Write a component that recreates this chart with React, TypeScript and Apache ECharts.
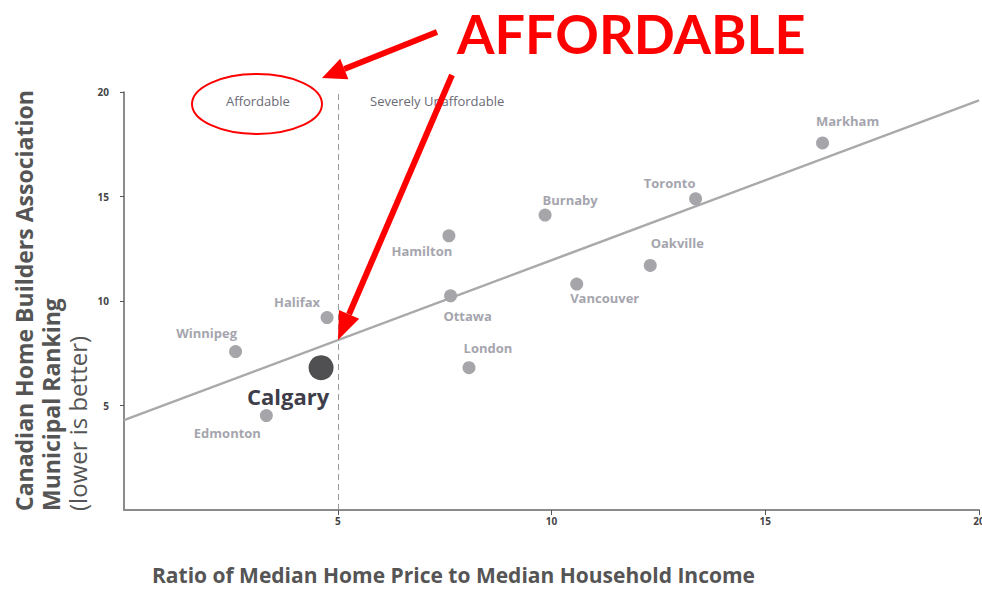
import React, { useEffect, useRef } from "react";
import * as echarts from "echarts";

const cities = ["Markham", "Toronto", "Burnaby", "Hamilton", "Oakville", "Vancouver", "Ottawa", "Halifax", "Winnipeg", "London", "Calgary", "Edmonton"];
const priceRatio = [16.34, 13.37, 9.85, 7.6, 12.31, 10.59, 7.64, 4.75, 2.61, 8.07, 4.61, 3.33];
const ranking = [17.56, 14.89, 14.11, 13.12, 11.7, 10.81, 10.25, 9.21, 7.58, 6.81, 6.81, 4.52];
const trendX = [0, 20];
const trendY = [4.3, 19.6];
const threshold = 5;
const highlightCity = "Calgary";

// label placement (pixels, relative to each point)
const labelOffsets: Record<string, [number, number]> = {
  Markham: [25, -22],
  Toronto: [-26, -16],
  Burnaby: [25, -15],
  Hamilton: [-27, 15],
  Oakville: [27, -22],
  Vancouver: [28, 14],
  Ottawa: [17, 20],
  Halifax: [-30, -16],
  Winnipeg: [-29, -19],
  London: [19, -20],
  Calgary: [-33, 28],
  Edmonton: [-39, 17],
};

const RED = "#ff0000";

function arrow(x1: number, y1: number, x2: number, y2: number, headLen: number, headHalf: number, width: number) {
  const dx = x2 - x1;
  const dy = y2 - y1;
  const len = Math.sqrt(dx * dx + dy * dy);
  const ux = dx / len;
  const uy = dy / len;
  const bx = x2 - headLen * ux;
  const by = y2 - headLen * uy;
  const nx = -uy;
  const ny = ux;
  return [
    {
      type: "line",
      shape: { x1, y1, x2: bx, y2: by },
      style: { stroke: RED, lineWidth: width },
      z: 100,
    },
    {
      type: "polygon",
      shape: {
        points: [
          [x2, y2],
          [bx + headHalf * nx, by + headHalf * ny],
          [bx - headHalf * nx, by - headHalf * ny],
        ],
      },
      style: { fill: RED },
      z: 100,
    },
  ];
}

export default function App() {
  const ref = useRef<HTMLDivElement>(null);
  useEffect(() => {
    if (!ref.current) return;
    const chart = echarts.init(ref.current, undefined, { renderer: "svg" });
    const font = "'Open Sans', 'Noto Sans', sans-serif";
    const scatterData = cities.map((c, i) => {
      const hi = c === highlightCity;
      return {
        name: c,
        value: [priceRatio[i], ranking[i]],
        symbolSize: hi ? 25 : 13,
        itemStyle: { color: hi ? "#505052" : "#a6a6aa", opacity: 1 },
        label: {
          show: true,
          position: "inside",
          offset: labelOffsets[c],
          formatter: c,
          fontFamily: font,
          fontWeight: "bold",
          fontSize: hi ? 22 : 13,
          color: hi ? "#3e3e4a" : "#a5a5ae",
        },
      };
    });
    const option: any = {
      animation: false,
      backgroundColor: "#ffffff",
      grid: { left: 124, right: 3, top: 92, bottom: 79, outerBoundsMode: "none", containLabel: false },
      xAxis: {
        type: "value",
        min: 0,
        max: 20,
        interval: 5,
        axisLine: { show: true, lineStyle: { color: "#8c8c8c", width: 2 } },
        axisTick: { show: true, length: 5, lineStyle: { color: "#555", width: 1 } },
        axisLabel: { showMinLabel: false, fontFamily: font, fontWeight: "bold", fontSize: 10, color: "#444", margin: 6 },
        splitLine: { show: false },
      },
      yAxis: {
        type: "value",
        min: 0,
        max: 20,
        interval: 5,
        offset: 5,
        axisLine: { show: true, lineStyle: { color: "#666", width: 1.5 } },
        axisTick: { show: true, length: 4, lineStyle: { color: "#555", width: 1 } },
        axisLabel: { showMinLabel: false, fontFamily: font, fontWeight: "bold", fontSize: 10, color: "#444", margin: 10 },
        splitLine: { show: false },
      },
      series: [
        {
          type: "line",
          data: trendX.map((x, i) => [x, trendY[i]]),
          symbol: "none",
          lineStyle: { color: "#a9a9ab", width: 2.5 },
          z: 1,
          silent: true,
        },
        {
          type: "scatter",
          data: scatterData,
          z: 3,
          markLine: {
            silent: true,
            symbol: ["none", "none"],
            label: { show: false },
            lineStyle: { color: "#9a9a9a", width: 1, type: [6, 4] },
            data: [{ xAxis: threshold }],
          },
        },
      ],
      graphic: [
        {
          type: "text",
          left: 226,
          top: 94,
          style: { text: "Affordable", font: `13px ${font}`, fill: "#6a6a75" },
        },
        {
          type: "text",
          left: 370,
          top: 94,
          style: { text: "Severely Unaffordable", font: `13px ${font}`, fill: "#6a6a75" },
        },
        {
          type: "ellipse",
          shape: { cx: 257, cy: 104, rx: 65, ry: 30 },
          style: { fill: "none", stroke: RED, lineWidth: 2 },
          z: 100,
        },
        {
          type: "text",
          x: 457,
          y: 33,
          style: {
            text: "AFFORDABLE",
            font: `bold 54px Lato, 'Open Sans', sans-serif`,
            fill: RED,
            textVerticalAlign: "middle",
            textAlign: "left",
          },
          z: 100,
        },
        ...arrow(437, 32, 322, 78, 24, 11, 6),
        ...arrow(452, 75, 338, 340, 28, 11, 6),
        {
          type: "text",
          x: 24,
          y: 511,
          rotation: Math.PI / 2,
          style: {
            text: "Canadian Home Builders Association",
            font: `bold 23px ${font}`,
            fill: "#555",
            textAlign: "left",
            textVerticalAlign: "middle",
          },
        },
        {
          type: "text",
          x: 51,
          y: 511,
          rotation: Math.PI / 2,
          style: {
            text: "Municipal Ranking",
            font: `bold 23px ${font}`,
            fill: "#555",
            textAlign: "left",
            textVerticalAlign: "middle",
          },
        },
        {
          type: "text",
          x: 77,
          y: 511,
          rotation: Math.PI / 2,
          style: {
            text: "(lower is better)",
            font: `24px ${font}`,
            fill: "#555",
            textAlign: "left",
            textVerticalAlign: "middle",
          },
        },
        {
          type: "text",
          x: 152,
          y: 575,
          style: {
            text: "Ratio of Median Home Price to Median Household Income",
            font: `bold 21px ${font}`,
            fill: "#555",
            textAlign: "left",
            textVerticalAlign: "middle",
          },
        },
      ],
    };
    chart.setOption(option);
    return () => chart.dispose();
  }, []);
  return <div ref={ref} style={{ position: "fixed", left: 0, top: 0, width: 982, height: 589 }} />;
}
